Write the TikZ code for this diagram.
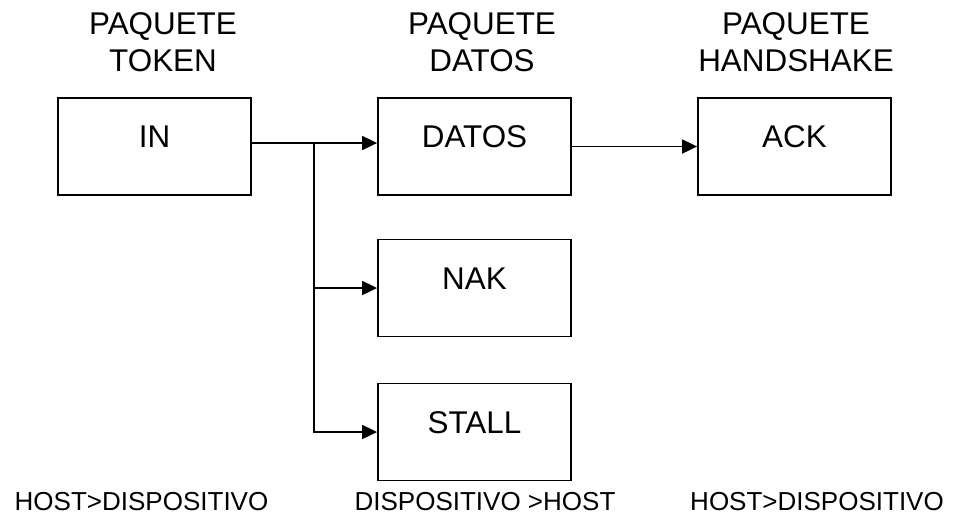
\documentclass[tikz,border=0pt]{standalone}
\usepackage{fontspec}
\setmainfont{Liberation Sans}
\usetikzlibrary{arrows.meta}

\begin{document}
\begin{tikzpicture}[x=0.5pt,y=-0.5pt,
    paquete/.style={rectangle,draw,line width=0.9pt,minimum width=96.5pt,minimum height=48.5pt,
      font=\fontsize{15.7}{18.5}\selectfont,text height=11.25pt,text depth=10.25pt},
    titulo/.style={align=center,anchor=south,inner sep=0pt,text depth=0pt,
      font=\fontsize{15.7}{18.5}\selectfont},
    sentido/.style={anchor=base,inner sep=0pt,font=\fontsize{13}{15}\selectfont},
    flecha/.style={line width=0.9pt,-{Triangle[length=7.5pt,width=7pt]}}]
    \useasboundingbox (0,0) rectangle (961,516);

    \node(tit_token)[titulo] at (163,72) {PAQUETE\\TOKEN};
    \node(tit_datos)[titulo] at (482,72) {PAQUETE\\DATOS};
    \node(tit_hs)[titulo] at (796,72) {PAQUETE\\HANDSHAKE};

    \node(in)[paquete] at (154.5,146.5) {IN};
    \node(datos)[paquete] at (474.5,146.5) {DATOS};
    \node(ack)[paquete] at (794.5,146.5) {ACK};
    \node(nak)[paquete] at (474.5,288) {NAK};
    \node(stall)[paquete] at (474.5,432) {STALL};

    \coordinate(fork) at (314,143);
    \draw[line width=0.9pt] (in.east |- fork) -- (fork);
    \draw[flecha] (fork) -- (datos.west |- fork);
    \draw[flecha] (fork) |- (nak.west);
    \draw[flecha] (fork) |- (stall.west);
    \draw[flecha] (datos) -- (ack);

    \node(dir_in)[sentido] at (141.5,510) {HOST>DISPOSITIVO};
    \node(dir_datos)[sentido] at (485,510) {DISPOSITIVO >HOST};
    \node(dir_hs)[sentido] at (817,510) {HOST>DISPOSITIVO};
  \end{tikzpicture}
\end{document}
